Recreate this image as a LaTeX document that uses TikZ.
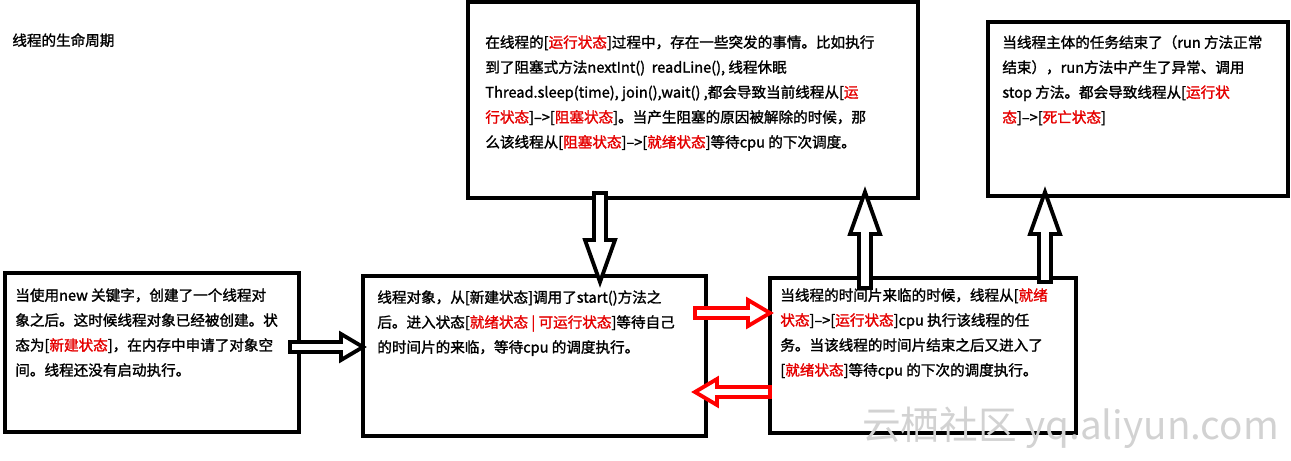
\documentclass[tikz,border=0pt]{standalone}
\usepackage{fontspec}
\setmainfont{Noto Sans CJK SC}[AutoFakeBold=1.5]
\usetikzlibrary{calc}
\colorlet{statecol}{red!90!black}
\tikzset{
  lifebox/.style={draw,line width=2.6pt},
  boxtext/.style={anchor=north west,inner sep=0pt,align=left,
    font=\fontsize{8.3}{14.2}\selectfont\bfseries},
  blockarrow/.style={draw,line width=2.2pt,line join=miter,fill=white},
}
\newcommand{\st}[1]{\textcolor{statecol}{#1}}
% hollow block arrow: start, end (same row or column)
\newcommand{\harrow}[4][black]{% y, x0, x1
  \draw[blockarrow,draw=#1] ({#3},{#2-5}) -- ({#4-22*sign(#4-#3)},{#2-5}) -- ({#4-22*sign(#4-#3)},{#2-13})
    -- ({#4},{#2}) -- ({#4-22*sign(#4-#3)},{#2+13}) -- ({#4-22*sign(#4-#3)},{#2+5}) -- ({#3},{#2+5}) -- cycle;}
\newcommand{\varrow}[3]{% x, y0, y1
  \draw[blockarrow] ({#1-6},{#2}) -- ({#1-6},{#3-42*sign(#3-#2)}) -- ({#1-15},{#3-42*sign(#3-#2)})
    -- ({#1},{#3}) -- ({#1+15},{#3-42*sign(#3-#2)}) -- ({#1+6},{#3-42*sign(#3-#2)}) -- ({#1+6},{#2}) -- cycle;}
\begin{document}
\begin{tikzpicture}[x=0.02cm,y=-0.02cm]
  \useasboundingbox (0,0) rectangle (1291,460);

  % TITLE
  \node[boxtext] (title) at (12,33) {线程的生命周期};

  % BOXES
  \draw[lifebox] (5,273) rectangle (299,432);
  \draw[lifebox] (363,276) rectangle (706,436);
  \draw[lifebox] (770,278) rectangle (1076,433);
  \draw[lifebox] (468,2) rectangle (918,198);
  \draw[lifebox] (988,22) rectangle (1288,196);

  % ARROWS
  \harrow{347}{290}{363}
  \harrow[red]{313}{695}{770}
  \harrow[red]{392}{770}{695}
  \varrow{600}{193}{282}
  \varrow{865}{288}{192}
  \varrow{1045}{282}{192}

  % TEXTS
  \node[boxtext] (newtxt) at (15,288) {当使用new 关键字，创建了一个线程对\\
    象之后。这时候线程对象已经被创建。状\\
    态为[\st{新建状态}]，在内存中申请了对象空\\
    间。线程还没有启动执行。};
  \node[boxtext] (readytxt) at (377,290) {线程对象，从[新建状态]调用了start()方法之\\
    后。进入状态[\st{就绪状态 | 可运行状态}]等待自己\\
    的时间片的来临，等待cpu 的调度执行。};
  \node[boxtext] (runtxt) at (780,288) {当线程的时间片来临的时候，线程从[\st{就绪}\\
    \st{状态}]-->[\st{运行状态}]cpu 执行该线程的任\\
    务。当该线程的时间片结束之后又进入了\\
    {}[\st{就绪状态}]等待cpu 的下次的调度执行。};
  \node[boxtext] (blocktxt) at (485,35) {在线程的[\st{运行状态}]过程中，存在一些突发的事情。比如执行\\
    到了阻塞式方法nextInt()\ \ readLine(), 线程休眠\\
    Thread.sleep(time), join(),wait() ,都会导致当前线程从[\st{运}\\
    \st{行状态}]-->[\st{阻塞状态}]。当产生阻塞的原因被解除的时候，那\\
    么该线程从[\st{阻塞状态}]-->[\st{就绪状态}]等待cpu 的下次调度。};
  \node[boxtext] (deadtxt) at (1002,35) {当线程主体的任务结束了（run 方法正常\\
    结束），run方法中产生了异常、调用\\
    stop 方法。都会导致线程从[\st{运行状}\\
    \st{态}]-->[\st{死亡状态}]};

  % WATERMARK
  \node[anchor=east,text=gray!35,font=\fontsize{22}{22}\selectfont] (mark) at (1285,428) {云栖社区 yq.aliyun.com};
\end{tikzpicture}
\end{document}
